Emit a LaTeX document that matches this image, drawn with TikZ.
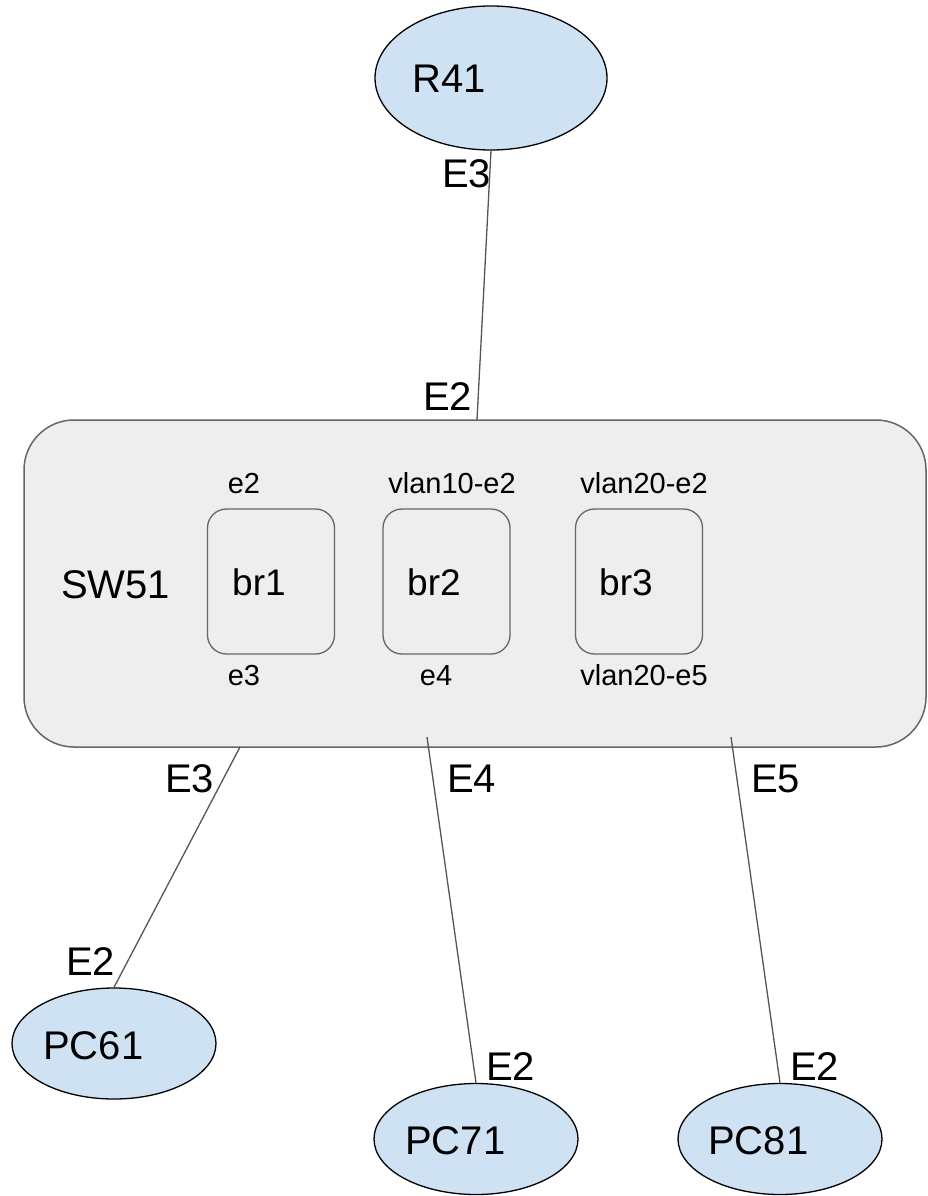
\documentclass[tikz,border=0pt]{standalone}
\usepackage{fontspec}
\setmainfont{Liberation Sans}
\usetikzlibrary{shapes.geometric}
\definecolor{hostfill}{HTML}{CFE2F3}
\definecolor{swfill}{HTML}{EEEEEE}
\definecolor{edgegray}{HTML}{666666}
\definecolor{linkgray}{HTML}{555555}
\begin{document}
\begin{tikzpicture}[x=1pt,y=-1pt,
  host/.style={ellipse,draw=black,line width=1.3pt,fill=hostfill,inner sep=0pt},
  switchbox/.style={rectangle,rounded corners=50pt,draw=edgegray,line width=1.5pt,fill=swfill,inner sep=0pt},
  bridgebox/.style={rectangle,rounded corners=19pt,draw=edgegray,line width=1.3pt,inner sep=0pt,minimum width=127pt,minimum height=145pt},
  bigtxt/.style={inner sep=0pt,anchor=base west,font=\fontsize{40}{48}\selectfont},
  brtxt/.style={inner sep=0pt,anchor=base west,font=\fontsize{37}{44}\selectfont},
  porttxt/.style={inner sep=0pt,anchor=base,font=\fontsize{29}{35}\selectfont},
  link/.style={draw=linkgray,line width=1.3pt}]
\useasboundingbox (0,0) rectangle (928,1196);

% switch with its three bridges
\node[switchbox,minimum width=902pt,minimum height=327pt] (sw) at (475,583.5) {};
\node[bridgebox] (br1) at (271,581.5) {};
\node[bridgebox] (br2) at (446.5,581.5) {};
\node[bridgebox] (br3) at (639,581.5) {};
\node[bigtxt] (swtxt) at (61,598) {SW51};
\node[brtxt] (br1txt) at (232,595) {br1};
\node[brtxt] (br2txt) at (407,595) {br2};
\node[brtxt] (br3txt) at (599,595) {br3};

% bridge member ports
\node[porttxt] (p1a) at (244,493) {e2};
\node[porttxt] (p2a) at (452,493) {vlan10-e2};
\node[porttxt] (p3a) at (644,493) {vlan20-e2};
\node[porttxt] (p1b) at (244,685) {e3};
\node[porttxt] (p2b) at (436,685) {e4};
\node[porttxt] (p3b) at (644,685) {vlan20-e5};

% hosts
\node[host,minimum width=232pt,minimum height=144pt] (r41) at (491,78) {};
\node[host,minimum width=204pt,minimum height=111pt] (pc61) at (114,1043.5) {};
\node[host,minimum width=204pt,minimum height=111pt] (pc71) at (476,1139) {};
\node[host,minimum width=204pt,minimum height=111pt] (pc81) at (780,1139) {};
\node[bigtxt] (r41txt) at (412,93) {R41};
\node[bigtxt] (pc61txt) at (43,1059) {PC61};
\node[bigtxt] (pc71txt) at (405,1154) {PC71};
\node[bigtxt] (pc81txt) at (708,1154) {PC81};

% attachment points on the switch
\coordinate (swup) at (477,420);
\coordinate (sw3) at (240,747);
\coordinate (sw4) at (427,737);
\coordinate (sw5) at (731,737);

% links
\draw[link] (r41.south) -- (swup);
\draw[link] (sw3) -- (pc61.north);
\draw[link] (sw4) -- (pc71.north);
\draw[link] (sw5) -- (pc81.north);

% interface labels
\node[bigtxt] (lr41) at (442,187) {E3};
\node[bigtxt] (lswup) at (423,410) {E2};
\node[bigtxt] (lsw3) at (165,792) {E3};
\node[bigtxt] (lsw4) at (447,792) {E4};
\node[bigtxt] (lsw5) at (751,792) {E5};
\node[bigtxt] (lpc61) at (66,975) {E2};
\node[bigtxt] (lpc71) at (486,1080) {E2};
\node[bigtxt] (lpc81) at (790,1080) {E2};
\end{tikzpicture}
\end{document}
